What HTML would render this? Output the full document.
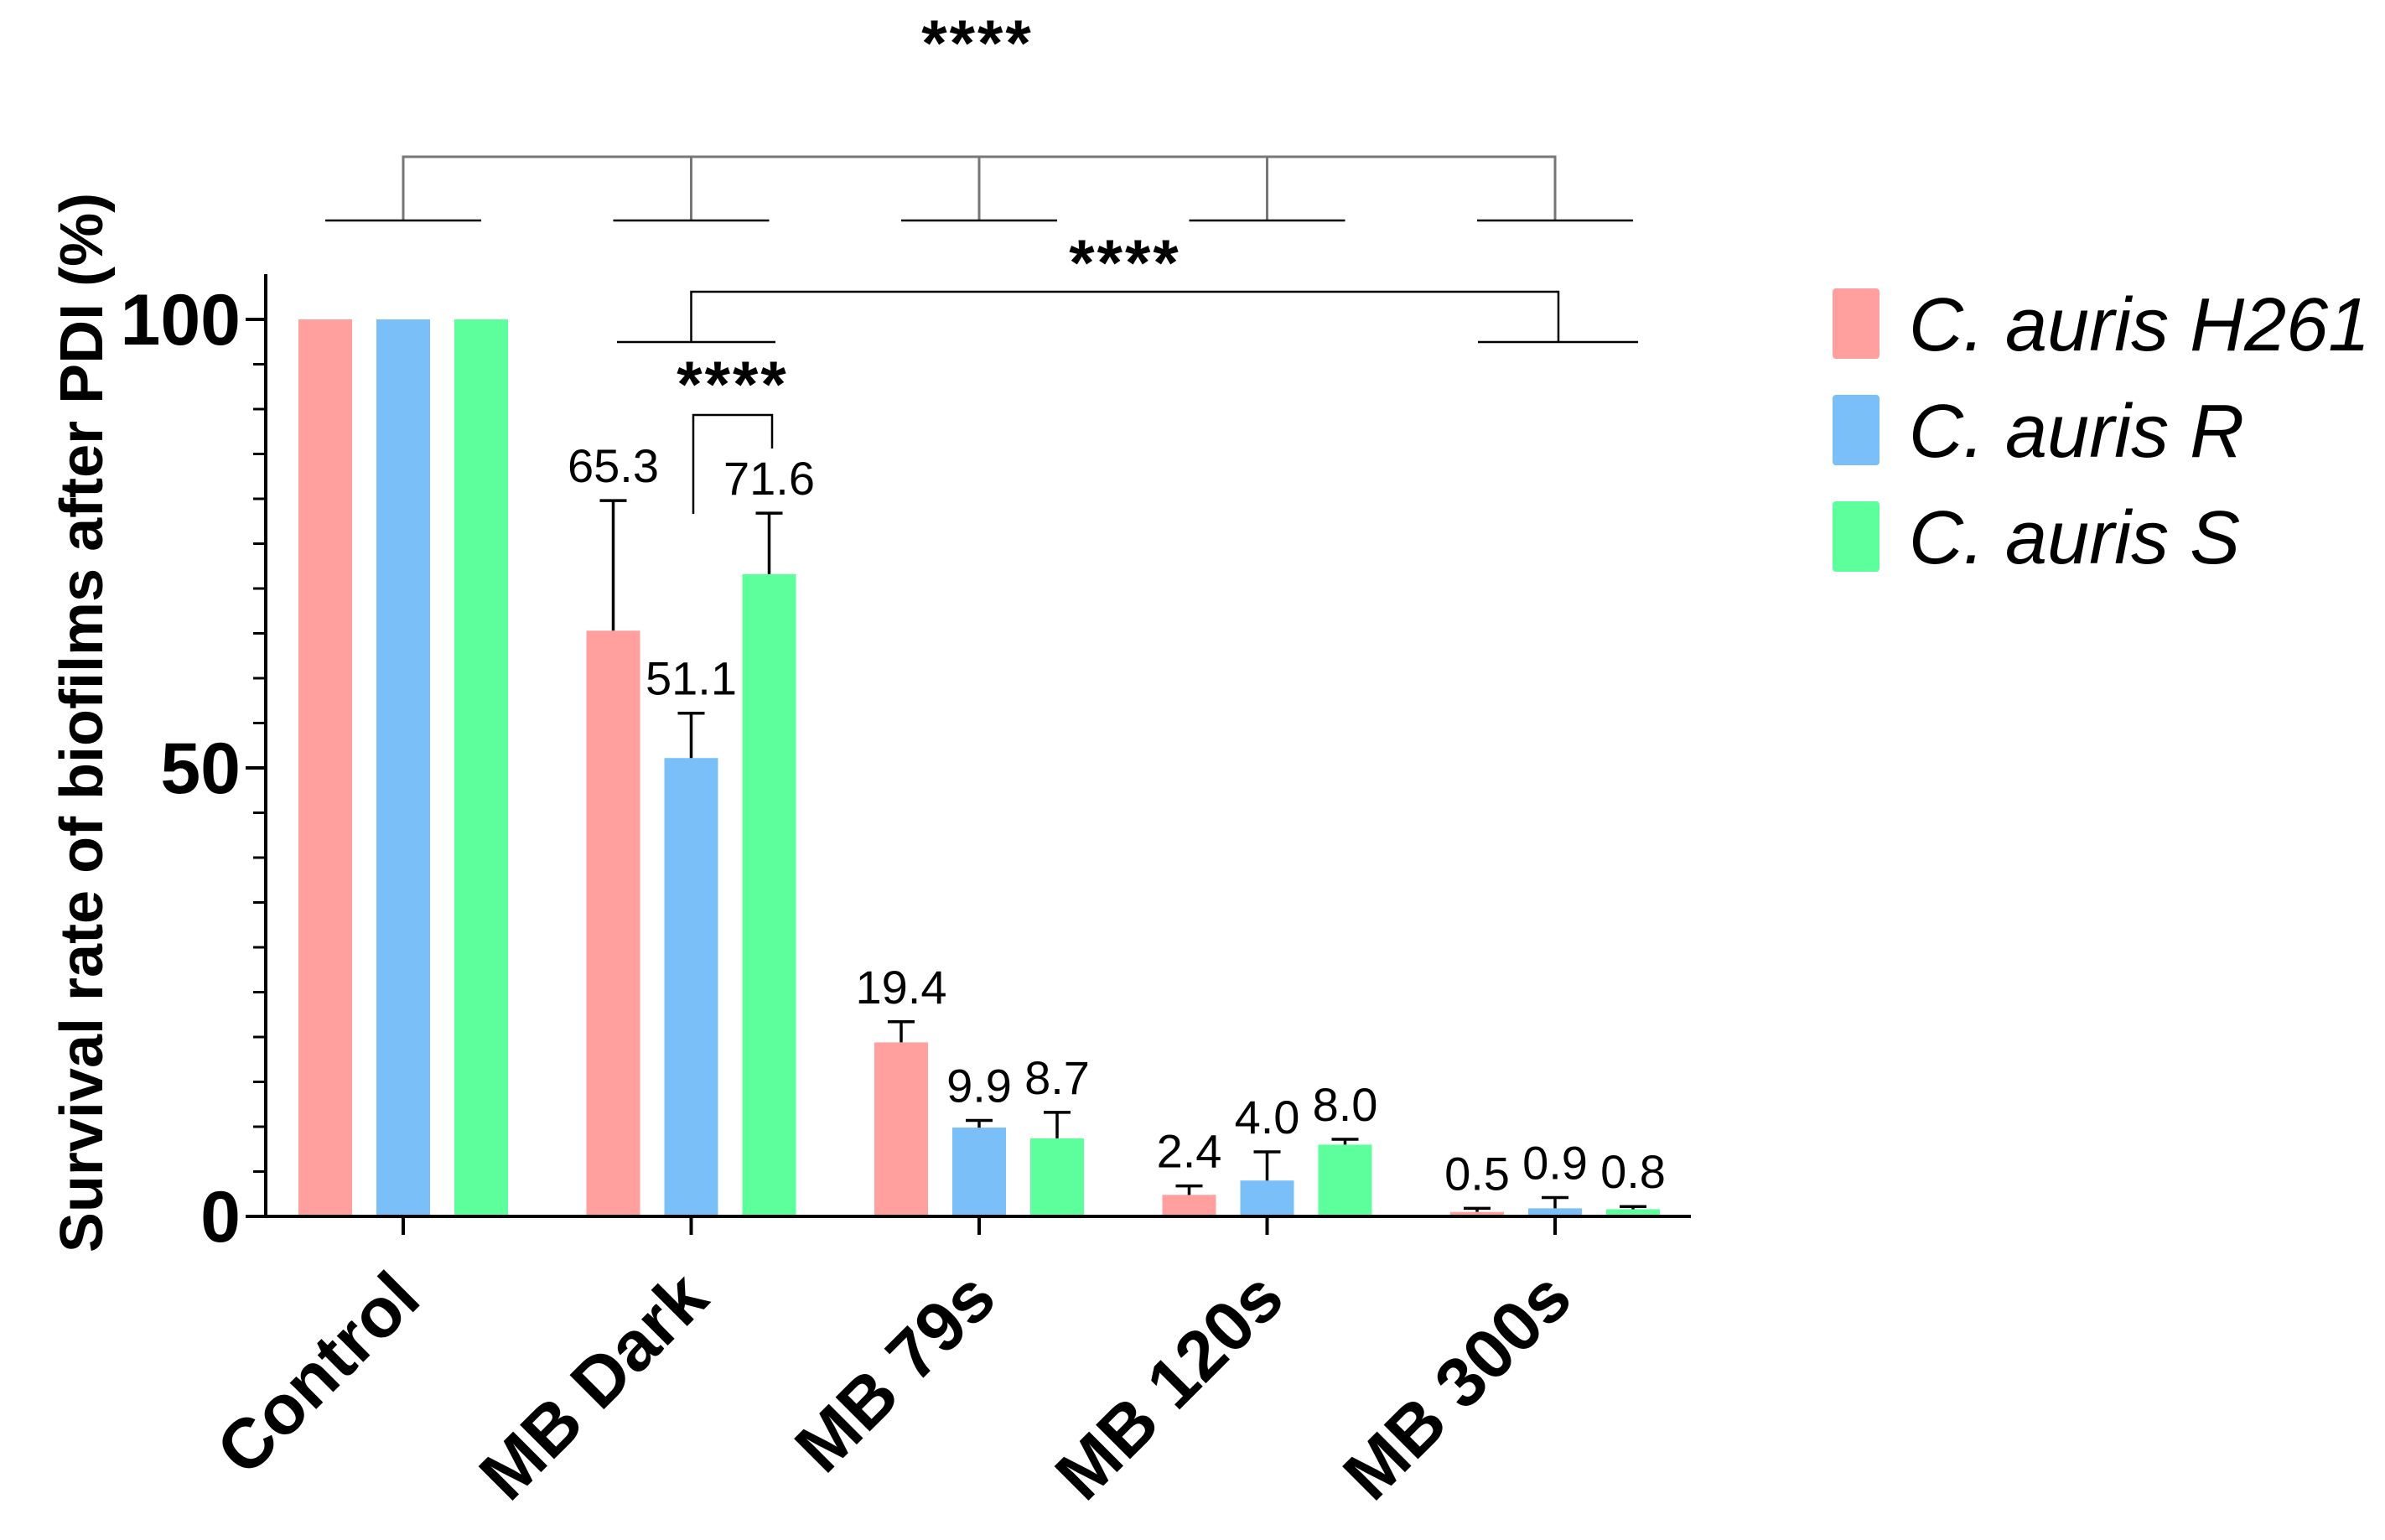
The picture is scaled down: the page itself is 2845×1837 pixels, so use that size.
<!DOCTYPE html>
<html><head><meta charset="utf-8"><style>
html,body{margin:0;padding:0;background:#fff;}
svg{display:block;font-family:"Liberation Sans",Arial,sans-serif;}
</style></head><body>
<svg id="chart" width="2845" height="1837" viewBox="0 0 2845 1837" xmlns="http://www.w3.org/2000/svg">
<g id="axes"></g>
<g id="bars"></g>
<g id="sig"></g>
<g id="legend"></g>
<text transform="translate(122,862) rotate(-90)" text-anchor="middle" font-size="72" font-weight="bold">Survival rate of biofilms after PDI (%)</text>
</svg>
<script>
const categories = ["Control","MB Dark","MB 79s","MB 120s","MB 300s"];
const seriesNames = ["C. auris H261","C. auris R","C. auris S"];
const h261 = [100,65.3,19.4,2.4,0.5];
const strainR = [100,51.1,9.9,4.0,0.9];
const strainS = [100,71.6,8.7,8.0,0.8];
const h261Err = [0,14.5,2.3,1.0,0.4];
const strainRErr = [0,5.0,0.8,3.2,1.2];
const strainSErr = [0,6.8,2.9,0.6,0.3];
const valueLabels = [[null,"65.3","19.4","2.4","0.5"],[null,"51.1","9.9","4.0","0.9"],[null,"71.6","8.7","8.0","0.8"]];
const yTicks = [0,50,100];

const NS="http://www.w3.org/2000/svg";
const colors=["#FFA09E","#7ABFF8","#5CFF9B"];
const X0=317, Y0=1451, Y100=381, GX0=481, GSTEP=343.5, OFF=93, BW=64;
const y = v => Y0 - (v/100)*(Y0-Y100);
const gx = i => GX0 + i*GSTEP;
function el(tag, attrs, parent, text){const e=document.createElementNS(NS,tag);for(const k in attrs)e.setAttribute(k,attrs[k]);if(text!==undefined)e.textContent=text;parent.appendChild(e);return e;}
const axes=document.getElementById('axes'), bars=document.getElementById('bars'), sig=document.getElementById('sig'), legend=document.getElementById('legend');

let a=el('line',{x1:X0,y1:327,x2:X0,y2:Y0+2,stroke:'#000','stroke-width':4},axes);


for(let v=0; v<=100; v+=5){
  const major = yTicks.includes(v);
  const t=el('line',{x1:X0-(major?24:15),y1:y(v),x2:X0,y2:y(v),stroke:'#000','stroke-width':major?4:3},axes);
  
  
}
yTicks.forEach(v=>{
  const t=el('text',{x:X0-30,y:y(v)+30,'text-anchor':'end','font-size':86,'font-weight':'bold'},axes,String(v));
  
  
});
a=el('line',{x1:X0-2,y1:Y0,x2:2017,y2:Y0,stroke:'#000','stroke-width':4},axes);


categories.forEach((c,i)=>{
  const t=el('line',{x1:gx(i),y1:Y0,x2:gx(i),y2:Y0+22,stroke:'#000','stroke-width':4},axes);
  
  
  const l=el('text',{transform:`translate(${gx(i)+24},${Y0+102}) rotate(-45)`,'text-anchor':'end','font-size':84,'font-weight':'bold'},axes,c);
  
  
});
const vals=[h261,strainR,strainS], errs=[h261Err,strainRErr,strainSErr];
categories.forEach((c,i)=>{
  vals.forEach((s,k)=>{
    const cx=gx(i)+(k-1)*OFF;
    const b=el('rect',{x:cx-BW/2,y:y(s[i]),width:BW,height:Y0-2-y(s[i]),fill:colors[k]},bars);
    
    
    if(errs[k][i]>0){
      const top=y(s[i]+errs[k][i]);
      const e=el('path',{d:`M${cx},${y(s[i])} V${top} M${cx-16},${top} H${cx+16}`,stroke:'#000','stroke-width':3.5,fill:'none'},bars);
      
      
      if(valueLabels[k][i]){
        const t=el('text',{x:cx,y:top-22,'text-anchor':'middle','font-size':56},bars,valueLabels[k][i]);
        
        
      }
    }
  });
});
function pth(d,col,w){const p=el('path',{d:d,stroke:col,'stroke-width':w,fill:'none'},sig);return p;}
let p=pth(`M${gx(0)},263 V187 H${gx(4)} V263 M${gx(1)},187 V263 M${gx(2)},187 V263 M${gx(3)},187 V263`,'#777',3);


p=pth(categories.map((c,i)=>`M${gx(i)-93},263 H${gx(i)+93}`).join(' '),'#000',2.5);


p=pth(`M736,408 H925 M1763,408 H1954 M${gx(1)},408 V348 H1859 V408`,'#000',2.5);


p=pth(`M827,613 V495 H921 V535`,'#000',2.5);


[[1166,78],[1342,340],[874,485]].forEach(s=>{
  const t=el('text',{x:s[0],y:s[1],'text-anchor':'middle','font-size':78,'font-weight':'bold','letter-spacing':'3'},sig,'****');
  
  
});
seriesNames.forEach((n,k)=>{
  const cy=386+k*127;
  const r=el('rect',{x:2186,y:cy-42,width:56,height:84,rx:4,fill:colors[k]},legend);
  
  
  const t=el('text',{x:2277,y:cy+32,'font-size':90,'font-style':'italic'},legend,n);
  
  
});
</script>
</body></html>
